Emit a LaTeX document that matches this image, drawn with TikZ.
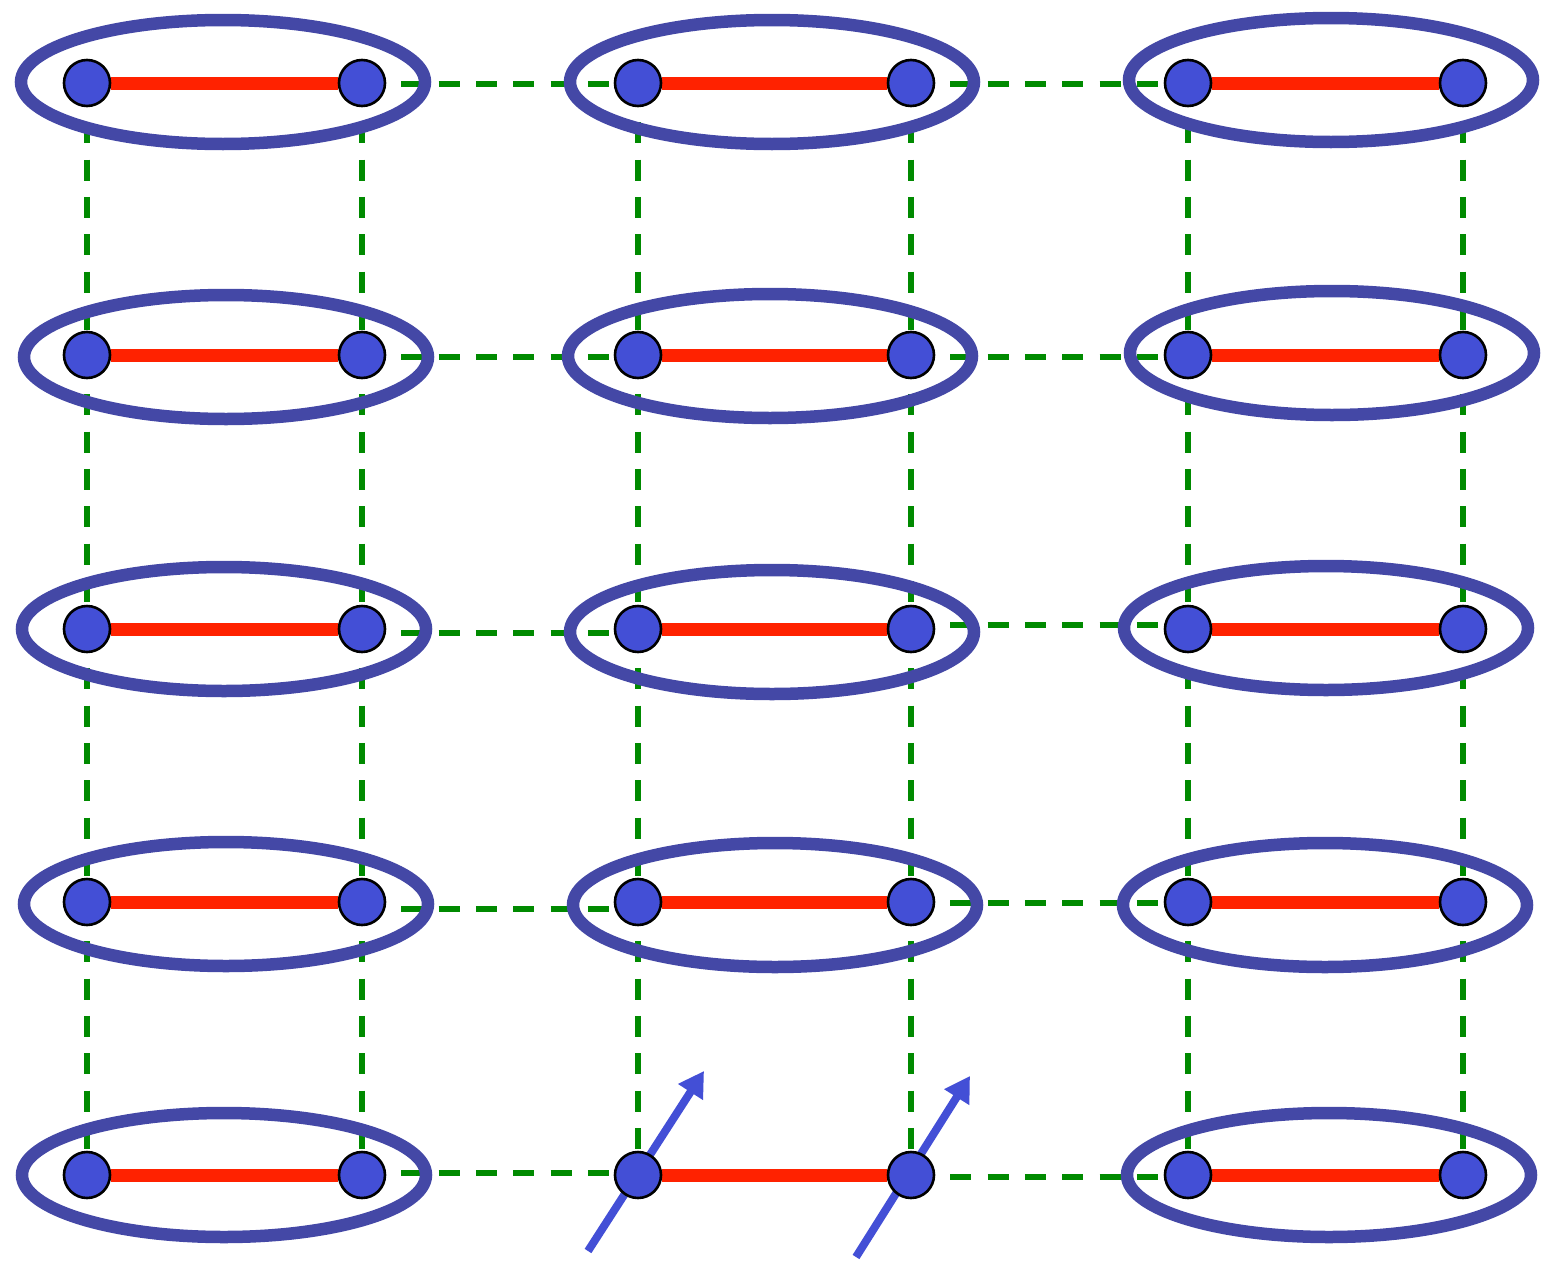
\documentclass[tikz,border=0pt]{standalone}
\usetikzlibrary{arrows.meta}
\definecolor{ringblue}{RGB}{68,72,166}
\definecolor{siteblue}{RGB}{67,79,214}
\definecolor{bondred}{RGB}{255,34,0}
\definecolor{linkgreen}{RGB}{0,138,0}
\pgfdeclarelayer{bg}
\pgfdeclarelayer{mid}
\pgfsetlayers{bg,mid,main}
\tikzset{
  site/.style={circle,fill=siteblue,draw=black,line width=2.6pt,minimum size=46pt,inner sep=0pt},
  bond/.style={draw=bondred,line width=13pt},
  link/.style={draw=linkgreen,line width=5.5pt,dash pattern=on 21pt off 16.3pt,dash phase=22.3pt},
  ring/.style={draw=ringblue,line width=12.5pt},
  spin/.style={draw=siteblue,line width=8pt,-{Triangle[length=25pt,width=28pt]}},
}
\begin{document}
\begin{tikzpicture}[x=1pt,y=-1pt]
\useasboundingbox (0,0) rectangle (1545,1261);
% sites
\foreach \r/\y in {1/83,2/355,3/629,4/902,5/1175}{
  \foreach \c/\x in {1/87,2/362,3/638,4/911,5/1188,6/1463}{
    \node[site] (n\r\c) at (\x,\y) {};
  }
}
% dashed links
\begin{pgfonlayer}{bg}
  \foreach \r/\da/\db in {1/-1/-1,2/-2/-2,3/-4/4,4/-7/-1,5/2/-2}{
    \draw[link] ([yshift=\da pt]n\r2.east) -- ([yshift=\da pt]n\r3.west);
    \draw[link] ([yshift=\db pt]n\r4.east) -- ([yshift=\db pt]n\r5.west);
  }
  \foreach \c in {1,...,6}{
    \draw[link] (n1\c) -- (n2\c);
    \draw[link] (n2\c) -- (n3\c);
    \draw[link] (n3\c) -- (n4\c);
    \draw[link] (n4\c) -- (n5\c);
  }
\end{pgfonlayer}
% rings, bonds, spins
\begin{pgfonlayer}{mid}
  \foreach \cx/\cy in {223/82,772/82,1331/80,
                       226/357,770/356,1332/353,
                       224/629,772/632,1326/628,
                       226/904,775/905,1325/905,
                       224/1175,1329/1175}{
    \draw[ring] (\cx,\cy) ellipse [x radius=202pt, y radius=62pt];
  }
  \foreach \r in {1,...,5}{
    \draw[bond] (n\r1) -- (n\r2);
    \draw[bond] (n\r3) -- (n\r4);
    \draw[bond] (n\r5) -- (n\r6);
  }
  \coordinate (s1a) at (588,1251);
  \coordinate (s1b) at (704,1071);
  \coordinate (s2a) at (856,1257);
  \coordinate (s2b) at (970,1076);
  \draw[spin] (s1a) -- (s1b);
  \draw[spin] (s2a) -- (s2b);
\end{pgfonlayer}
\end{tikzpicture}
\end{document}
